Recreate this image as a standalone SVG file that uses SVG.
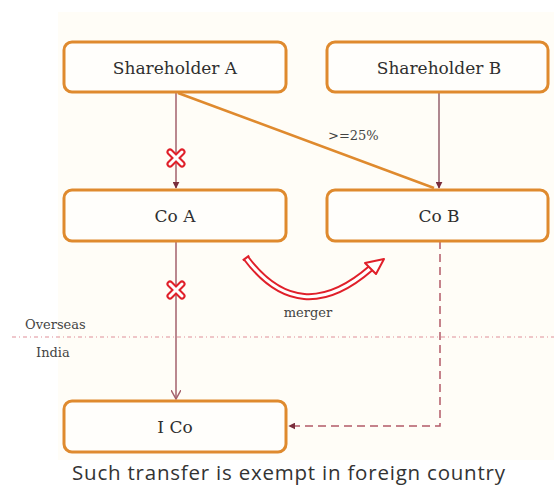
<svg xmlns="http://www.w3.org/2000/svg" width="554" height="485" viewBox="0 0 554 485">
<defs>
<style>
.box{fill:#fffefb;stroke:#df8a2e;stroke-width:3}
.lbl{font-family:"DejaVu Serif","Liberation Serif",serif;font-size:17px;fill:#2f2f2f;text-anchor:middle}
.sm{font-family:"DejaVu Serif","Liberation Serif",serif;font-size:13px;fill:#444444}
.ln{fill:none;stroke:#a3606c;stroke-width:1.5}
.dash{fill:none;stroke:#b35a68;stroke-width:1.5;stroke-dasharray:8 5}
.xr{stroke:#e0202a;stroke-width:7;stroke-linecap:round}
.xw{stroke:#ffffff;stroke-width:3;stroke-linecap:round}
</style>
<marker id="fa" viewBox="0 0 10 10" refX="9" refY="5" markerWidth="7" markerHeight="7" orient="auto" markerUnits="userSpaceOnUse">
<path d="M0,0 L10,5 L0,10 z" fill="#7a2e3c"/>
</marker>
<marker id="oa" viewBox="0 0 10 10" refX="9" refY="5" markerWidth="10" markerHeight="10" orient="auto" markerUnits="userSpaceOnUse">
<path d="M0,0 L9,5 L0,10" fill="none" stroke="#a3606c" stroke-width="1.5"/>
</marker>
</defs>
<rect x="0" y="0" width="554" height="485" fill="#ffffff"/>
<rect x="58" y="12" width="496" height="448" fill="#fffdf7"/>

<g id="connectors">
<line class="ln" x1="176" y1="93" x2="176" y2="188" marker-end="url(#fa)"/>
<line x1="178" y1="93" x2="434" y2="188" stroke="#df8a2e" stroke-width="2.5"/>
<line x1="439" y1="93" x2="439" y2="188" stroke="#7a3a4a" stroke-width="1.2" marker-end="url(#fa)"/>
<line class="ln" x1="176" y1="241" x2="176" y2="399" marker-end="url(#oa)"/>
<path class="dash" d="M440,241 V426 H289" marker-end="url(#fa)"/>
<line x1="12" y1="337" x2="554" y2="337" stroke="#e0909a" stroke-width="1.2" stroke-dasharray="4 3 1 3"/>
</g>

<g id="x1">
<line class="xr" x1="170" y1="152" x2="182" y2="164"/>
<line class="xr" x1="170" y1="164" x2="182" y2="152"/>
<line class="xw" x1="170" y1="152" x2="182" y2="164"/>
<line class="xw" x1="170" y1="164" x2="182" y2="152"/>
</g>
<g id="x2">
<line class="xr" x1="170" y1="284" x2="182" y2="296"/>
<line class="xr" x1="170" y1="296" x2="182" y2="284"/>
<line class="xw" x1="170" y1="284" x2="182" y2="296"/>
<line class="xw" x1="170" y1="296" x2="182" y2="284"/>
</g>

<g id="merger-arrow">
<path d="M246,258 Q300,330 371,268" fill="none" stroke="#e0202a" stroke-width="7"/>
<path d="M246,258 Q300,330 371,268" fill="none" stroke="#ffffff" stroke-width="3"/>
<line x1="242.8" y1="260.4" x2="249.2" y2="255.6" stroke="#e0202a" stroke-width="2"/>
<polygon points="384,259 376,274 365,263" fill="#ffffff" stroke="#e0202a" stroke-width="2" stroke-linejoin="round"/>
</g>

<g id="shareholderA">
<rect class="box" x="64" y="42" width="222" height="50" rx="8"/>
<text class="lbl" x="175" y="74">Shareholder A</text>
</g>
<g id="shareholderB">
<rect class="box" x="327" y="42" width="221" height="50" rx="8"/>
<text class="lbl" x="439" y="74">Shareholder B</text>
</g>
<g id="coA">
<rect class="box" x="64" y="190" width="222" height="51" rx="8"/>
<text class="lbl" x="175" y="222">Co A</text>
</g>
<g id="coB">
<rect class="box" x="327" y="190" width="221" height="51" rx="8"/>
<text class="lbl" x="439" y="222">Co B</text>
</g>
<g id="iCo">
<rect class="box" x="64" y="401" width="222" height="51" rx="8"/>
<text class="lbl" x="175" y="433">I Co</text>
</g>

<text class="sm" x="328" y="140" font-size="12">&gt;=25%</text>
<text class="sm" x="308" y="317" text-anchor="middle">merger</text>
<text class="sm" x="25" y="329">Overseas</text>
<text class="sm" x="36" y="357">India</text>
<text x="72" y="480" font-family="'Open Sans','Liberation Sans',sans-serif" font-size="20.5" fill="#333333" textLength="433">Such transfer is exempt in foreign country</text>
</svg>
